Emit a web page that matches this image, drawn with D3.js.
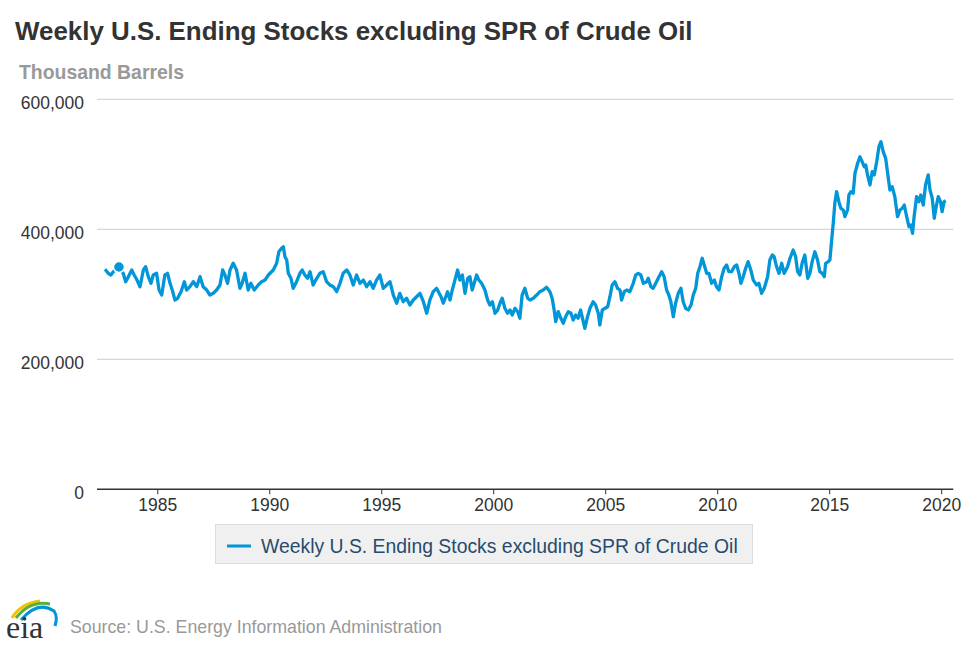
<!DOCTYPE html>
<html>
<head>
<meta charset="utf-8">
<script src="https://cdn.jsdelivr.net/npm/d3@7"></script>
<style>
  html, body { margin: 0; padding: 0; background: #fff; }
  svg { display: block; font-family: "Liberation Sans", Arial, Helvetica, sans-serif; }
</style>
</head>
<body>
<svg id="chart" width="970" height="647"></svg>
<script>
// ---------------- DATA ----------------
const title = "Weekly U.S. Ending Stocks excluding SPR of Crude Oil";
const unitLabel = "Thousand Barrels";
const seriesName = "Weekly U.S. Ending Stocks excluding SPR of Crude Oil";
const sourceText = "Source: U.S. Energy Information Administration";

const yTicks = [0, 200000, 400000, 600000];
const xTicks = [1985, 1990, 1995, 2000, 2005, 2010, 2015, 2020];

// decimal year of observation
const years = [
1982.67,1982.81,1982.93,1983.04,1983.29,1983.48,1983.59,1983.71,1983.86,1983.97,
1984.08,1984.23,1984.38,1984.48,1984.60,1984.72,1984.82,1984.97,1985.08,1985.20,
1985.34,1985.46,1985.57,1985.67,1985.79,1985.91,1986.06,1986.21,1986.31,1986.46,
1986.61,1986.76,1986.91,1987.05,1987.21,1987.35,1987.50,1987.65,1987.80,1987.92,
1988.02,1988.14,1988.25,1988.39,1988.54,1988.69,1988.79,1988.92,1989.06,1989.18,
1989.33,1989.51,1989.66,1989.81,1989.96,1990.18,1990.33,1990.43,1990.55,1990.63,
1990.70,1990.78,1990.85,1990.97,1991.07,1991.22,1991.37,1991.47,1991.59,1991.71,
1991.82,1991.96,1992.12,1992.26,1992.41,1992.56,1992.71,1992.86,1993.01,1993.16,
1993.30,1993.46,1993.60,1993.75,1993.90,1994.05,1994.20,1994.35,1994.50,1994.64,
1994.79,1994.94,1995.09,1995.24,1995.39,1995.54,1995.69,1995.83,1995.98,1996.13,
1996.28,1996.43,1996.58,1996.73,1996.88,1997.03,1997.17,1997.32,1997.47,1997.67,
1997.77,1997.88,1997.96,1998.07,1998.17,1998.29,1998.41,1998.51,1998.62,1998.74,
1998.86,1998.96,1999.06,1999.15,1999.26,1999.36,1999.48,1999.63,1999.75,1999.85,
1999.96,2000.08,2000.20,2000.30,2000.40,2000.52,2000.64,2000.75,2000.85,2000.97,
2001.09,2001.19,2001.29,2001.41,2001.54,2001.64,2001.79,2001.94,2002.08,2002.23,
2002.38,2002.53,2002.63,2002.72,2002.79,2002.90,2003.02,2003.13,2003.23,2003.35,
2003.47,2003.57,2003.68,2003.79,2003.90,2004.02,2004.09,2004.21,2004.32,2004.46,
2004.57,2004.69,2004.76,2004.87,2004.99,2005.11,2005.21,2005.31,2005.43,2005.55,
2005.66,2005.73,2005.85,2005.96,2006.10,2006.25,2006.36,2006.47,2006.59,2006.70,
2006.85,2006.92,2007.04,2007.14,2007.29,2007.40,2007.52,2007.63,2007.74,2007.84,
2007.93,2008.04,2008.14,2008.26,2008.38,2008.48,2008.59,2008.71,2008.83,2008.93,
2009.04,2009.13,2009.23,2009.33,2009.42,2009.53,2009.63,2009.75,2009.87,2009.97,
2010.08,2010.20,2010.31,2010.42,2010.52,2010.64,2010.76,2010.87,2010.97,2011.06,
2011.16,2011.27,2011.38,2011.50,2011.61,2011.76,2011.86,2011.98,2012.10,2012.25,
2012.35,2012.46,2012.54,2012.65,2012.76,2012.88,2012.99,2013.14,2013.25,2013.39,
2013.50,2013.59,2013.69,2013.79,2013.91,2014.04,2014.14,2014.24,2014.36,2014.48,
2014.58,2014.69,2014.78,2014.84,2014.96,2015.03,2015.11,2015.18,2015.25,2015.33,
2015.43,2015.52,2015.63,2015.70,2015.82,2015.88,2015.97,2016.07,2016.15,2016.27,
2016.37,2016.47,2016.56,2016.63,2016.71,2016.82,2016.92,2017.01,2017.12,2017.22,
2017.31,2017.41,2017.52,2017.63,2017.71,2017.81,2017.93,2018.05,2018.16,2018.26,
2018.35,2018.46,2018.56,2018.65,2018.72,2018.79,2018.90,2019.00,2019.09,2019.20,
2019.30,2019.42,2019.50,2019.60,2019.69,2019.79,2019.87,2019.97,2020.04,2020.13,
2020.20];

// ending stocks, thousand barrels
const stocks = [
338500,332300,329700,334800,342000,332300,319400,327100,337400,329700,
323100,311700,337400,342500,327100,316900,329700,332300,306600,298900,
329700,332300,316900,306600,291200,293900,304000,319400,306600,311700,
319400,311700,327100,311700,306600,298900,301500,306600,314300,337400,
329700,316900,337400,347700,337400,309200,316900,332300,306600,316900,
306600,314300,319400,321900,329700,337400,347700,365500,370800,373200,
357900,352800,332300,324600,309200,319400,332300,337400,329700,324600,
334800,314300,324600,332300,334800,319400,314300,311700,304000,316900,
332300,337400,329700,314300,329700,316900,321900,311700,319400,309200,
321900,329700,309200,314300,319400,298900,286200,301500,288600,293900,
283500,291200,296300,301500,288600,270800,291200,304000,309200,296300,
286200,296300,304000,291200,306600,321900,337400,321900,329700,301500,
324600,327100,306600,316900,329700,321900,316900,306600,291200,283500,
288600,270800,275900,286200,293900,278500,270800,275900,268200,278500,
273200,263100,298900,309200,293900,291200,293900,298900,304000,306600,
310800,304000,293900,275900,257900,273200,263100,255400,265500,273200,
270800,260500,268200,263100,275900,257900,247700,265500,278500,288600,
283500,270800,252800,275900,278500,280900,296300,314300,319400,309200,
306600,291200,304000,306600,304000,316900,329700,332300,329700,316900,
319400,324600,311700,309200,319400,327100,334800,327100,306600,298900,
288600,265500,286200,301500,309200,288600,278500,275900,283500,298900,
309200,332300,342500,355400,345100,332300,332300,316900,321900,311700,
306600,327100,340000,345100,334800,334800,342500,345100,332300,316900,
327100,340000,350200,337400,321900,314300,316900,301500,309200,327100,
352800,360500,357900,342500,332300,347700,332300,342500,355400,368200,
357900,334800,329700,347700,360500,324600,332300,350200,365500,352800,
334800,332300,327100,347700,350200,352800,383600,409200,440000,457900,
442500,432300,429700,419400,429700,452800,457900,455400,486200,501600,
511700,504000,496300,498900,483600,468200,488600,483600,504000,527100,
534800,519400,509200,480900,460500,465500,450200,419400,429700,432300,
437400,419400,404000,406600,393900,419400,450200,442500,452800,437400,
468200,483600,460500,447700,416900,437400,450200,442500,427100,442500,
444000];

const highlightIndex = 4; // hovered point marker

// ---------------- DRAW ----------------
const svg = d3.select("#chart");
const lineColor = "#0096d7";
const fontStack = '"Liberation Sans", Arial, Helvetica, sans-serif';

const plot = { left: 97, right: 953.3, top: 99.3, bottom: 489.3 };

const x = d3.scaleLinear()
  .domain([1982.31, 2020.54])
  .range([plot.left, plot.right]);
const y = d3.scaleLinear()
  .domain([0, 600000])
  .range([plot.bottom, plot.top]);

function fitWidth(sel, target) {
  const w = sel.node().getComputedTextLength();
  const fs = parseFloat(sel.attr("font-size"));
  sel.attr("font-size", (fs * target / w).toFixed(2));
}

// title & unit
const t = svg.append("text")
  .attr("x", 15).attr("y", 40)
  .attr("font-size", 22).attr("font-weight", "bold")
  .attr("fill", "#333333").text(title);
fitWidth(t, 678);

const u = svg.append("text")
  .attr("x", 19).attr("y", 79)
  .attr("font-size", 16).attr("font-weight", "bold")
  .attr("fill", "#999999").text(unitLabel);
fitWidth(u, 165);

// gridlines
svg.append("g")
  .selectAll("line")
  .data(yTicks.filter(d => d > 0))
  .join("line")
  .attr("x1", plot.left).attr("x2", plot.right)
  .attr("y1", d => y(d)).attr("y2", d => y(d))
  .attr("stroke", "#cccccc").attr("stroke-width", 1);

// y axis labels
const yAxis = d3.axisLeft(y).tickValues(yTicks).tickSize(0).tickPadding(0)
  .tickFormat(d3.format(","));
const gy = svg.append("g").attr("transform", `translate(84,4)`).call(yAxis);
gy.select(".domain").remove();
gy.selectAll("text").attr("font-size", 17.5).attr("font-family", fontStack).attr("fill", "#333333");

// x axis
const xAxis = d3.axisBottom(x).tickValues(xTicks).tickSize(5).tickPadding(4)
  .tickFormat(d3.format("d"));
const gx = svg.append("g").attr("transform", `translate(0,${plot.bottom})`).call(xAxis);
gx.select(".domain").attr("stroke", "#333333").attr("stroke-width", 1.5)
  .attr("d", `M${plot.left},0H${plot.right}`);
gx.selectAll(".tick line").attr("stroke", "#333333");
gx.selectAll("text").attr("font-size", 17.5).attr("font-family", fontStack).attr("fill", "#333333");

// data line
const data = years.map((yr, i) => ({ yr, v: stocks[i] }));
const line = d3.line().x(d => x(d.yr)).y(d => y(d.v)).curve(d3.curveLinear);
svg.append("path")
  .datum(data)
  .attr("d", line)
  .attr("fill", "none")
  .attr("stroke", lineColor)
  .attr("stroke-width", 3.3)
  .attr("stroke-linejoin", "round");

// marker
const hp = data[highlightIndex];
svg.append("circle")
  .attr("cx", x(hp.yr)).attr("cy", y(hp.v))
  .attr("r", 5.5)
  .attr("fill", lineColor)
  .attr("stroke", "#ffffff").attr("stroke-width", 1.5);

// legend
const lg = svg.append("g");
lg.append("rect")
  .attr("x", 215.5).attr("y", 524.5).attr("width", 537).attr("height", 39)
  .attr("fill", "#f0f0f0").attr("stroke", "#dddddd").attr("stroke-width", 1);
lg.append("line")
  .attr("x1", 227).attr("x2", 251).attr("y1", 546).attr("y2", 546)
  .attr("stroke", lineColor).attr("stroke-width", 3);
const lt = lg.append("text")
  .attr("x", 261).attr("y", 552.5)
  .attr("font-size", 17).attr("fill", "#274b6d").text(seriesName);
fitWidth(lt, 477);

// source + logo
const logo = svg.append("g");
logo.append("path").attr("d", "M12,618 Q21,603 40,601").attr("fill", "none")
  .attr("stroke", "#f2c300").attr("stroke-width", 3);
logo.append("path").attr("d", "M16,618 Q30,600 50,604").attr("fill", "none")
  .attr("stroke", "#5cad3c").attr("stroke-width", 3);
logo.append("path").attr("d", "M21,620 Q38,600 54,611 Q58,617 55,626").attr("fill", "none")
  .attr("stroke", "#0096d7").attr("stroke-width", 3);
logo.append("text").attr("x", 6).attr("y", 638)
  .attr("font-family", '"Liberation Serif", "DejaVu Serif", serif')
  .attr("font-size", 32).attr("fill", "#333333").text("eia");

const st = svg.append("text")
  .attr("x", 70).attr("y", 633)
  .attr("font-size", 17).attr("fill", "#999999").text(sourceText);
fitWidth(st, 372);
</script>
</body>
</html>
